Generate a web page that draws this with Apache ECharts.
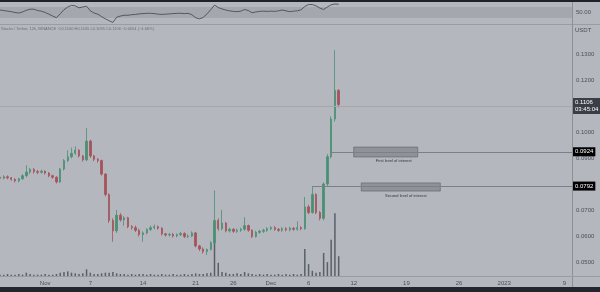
<!DOCTYPE html>
<html><head><meta charset="utf-8">
<script src="https://cdn.jsdelivr.net/npm/echarts@6/dist/echarts.min.js"></script>
<style>html,body{margin:0;padding:0;background:#b4b7be;}#c{width:600px;height:292px;}</style>
</head><body><div id="c"></div>
<script>
// 12h candles: [open, close, low, high]
const candles = [
 [0.0826,0.0822,0.0815,0.0832],[0.0822,0.0828,0.0818,0.0834],[0.0828,0.0824,0.0818,0.0833],[0.0824,0.0818,0.0812,0.0827],
 [0.0818,0.0812,0.0806,0.0822],[0.0812,0.0820,0.0806,0.0824],[0.0820,0.0832,0.0816,0.0838],[0.0832,0.0846,0.0826,0.0872],
 [0.0846,0.0856,0.0838,0.0862],[0.0856,0.0848,0.0840,0.0862],[0.0848,0.0845,0.0838,0.0854],[0.0845,0.0849,0.0840,0.0855],
 [0.0849,0.0842,0.0836,0.0853],[0.0842,0.0832,0.0826,0.0846],[0.0832,0.0826,0.0820,0.0836],[0.0826,0.0808,0.0802,0.0830],
 [0.0808,0.0858,0.0804,0.0862],[0.0858,0.0890,0.0852,0.0896],[0.0890,0.0905,0.0884,0.0930],[0.0905,0.0918,0.0898,0.0940],
 [0.0918,0.0930,0.0912,0.0945],[0.0930,0.0908,0.0902,0.0934],[0.0908,0.0893,0.0886,0.0912],[0.0893,0.0965,0.0888,0.1015],
 [0.0965,0.0908,0.0900,0.0970],[0.0908,0.0895,0.0888,0.0912],[0.0895,0.0890,0.0882,0.0900],[0.0890,0.0838,0.0832,0.0894],
 [0.0838,0.0760,0.0752,0.0842],[0.0760,0.0660,0.0650,0.0764],[0.0660,0.0620,0.0578,0.0668],[0.0620,0.0680,0.0612,0.0700],
 [0.0680,0.0662,0.0655,0.0688],[0.0662,0.0670,0.0640,0.0676],[0.0670,0.0636,0.0630,0.0674],[0.0636,0.0632,0.0624,0.0642],
 [0.0632,0.0622,0.0615,0.0640],[0.0622,0.0606,0.0598,0.0628],[0.0606,0.0612,0.0578,0.0618],[0.0612,0.0625,0.0606,0.0630],
 [0.0625,0.0632,0.0620,0.0640],[0.0632,0.0636,0.0626,0.0644],[0.0636,0.0630,0.0624,0.0640],[0.0630,0.0608,0.0602,0.0634],
 [0.0608,0.0604,0.0598,0.0612],[0.0604,0.0606,0.0598,0.0612],[0.0606,0.0600,0.0594,0.0612],[0.0600,0.0605,0.0595,0.0610],
 [0.0605,0.0610,0.0600,0.0615],[0.0610,0.0598,0.0592,0.0614],[0.0598,0.0600,0.0592,0.0606],[0.0600,0.0612,0.0596,0.0618],
 [0.0612,0.0562,0.0556,0.0616],[0.0562,0.0550,0.0542,0.0566],[0.0550,0.0540,0.0532,0.0556],[0.0540,0.0548,0.0527,0.0552],
 [0.0548,0.0574,0.0544,0.0580],[0.0574,0.0660,0.0570,0.0775],[0.0660,0.0628,0.0620,0.0668],[0.0628,0.0650,0.0622,0.0700],
 [0.0650,0.0620,0.0614,0.0654],[0.0620,0.0626,0.0614,0.0632],[0.0626,0.0618,0.0612,0.0630],[0.0618,0.0622,0.0612,0.0628],
 [0.0622,0.0626,0.0616,0.0632],[0.0626,0.0640,0.0620,0.0672],[0.0640,0.0622,0.0616,0.0644],[0.0622,0.0598,0.0592,0.0626],
 [0.0598,0.0614,0.0594,0.0620],[0.0614,0.0618,0.0608,0.0624],[0.0618,0.0622,0.0612,0.0628],[0.0622,0.0628,0.0616,0.0634],
 [0.0628,0.0632,0.0622,0.0638],[0.0632,0.0626,0.0620,0.0638],[0.0626,0.0622,0.0616,0.0630],[0.0622,0.0628,0.0616,0.0634],
 [0.0628,0.0624,0.0618,0.0634],[0.0624,0.0630,0.0618,0.0636],[0.0630,0.0626,0.0620,0.0634],[0.0626,0.0632,0.0620,0.0656],
 [0.0632,0.0628,0.0622,0.0638],[0.0628,0.0712,0.0624,0.0750],[0.0712,0.0690,0.0684,0.0720],[0.0690,0.0760,0.0686,0.0792],
 [0.0760,0.0690,0.0684,0.0764],[0.0690,0.0668,0.0660,0.0696],[0.0668,0.0800,0.0660,0.0806],[0.0800,0.0905,0.0792,0.0915],
 [0.0905,0.1050,0.0898,0.1060],[0.1050,0.1160,0.1040,0.1315],[0.1160,0.1106,0.1095,0.1165]
];
const volumes = [
 2,2,3,2,2,3,2,5,3,2,2,2,3,2,2,3,5,6,7,5,4,3,4,10,5,3,3,4,5,5,
 6,4,3,3,2,3,2,3,3,2,3,2,2,3,2,2,3,2,2,3,2,3,4,3,3,4,5,55,20,6,
 5,3,3,4,3,6,4,3,2,3,2,3,2,2,3,2,3,2,3,2,3,41,18,8,5,6,35,21,55,95,
 30
];
const rsiValues = [
 59,57,55,53,50,48,52,58,62,62,57,55,50,44,37,31,45,60,70,76,
 74,67,70,73,56,48,44,35,27,20,14,33,37,40,40,42,43,45,46,47,
 47,46,44,43,44,45,46,47,47,46,47,42,31,27,32,45,60,77,68,63,
 59,56,54,53,55,61,57,49,52,54,55,54,55,54,56,59,56,53,55,56,
 60,72,79,79,74,66,61,70,78,81,80
];
const priceTicks = [0.05,0.06,0.07,0.08,0.09,0.10,0.11,0.12,0.13];
const tickDates = ['2022-11-01 00:00','2022-11-07 00:00','2022-11-14 00:00','2022-11-21 00:00','2022-11-26 00:00','2022-12-01 00:00',
  '2022-12-06 00:00','2022-12-12 00:00','2022-12-19 00:00','2022-12-26 00:00','2023-01-01 00:00','2023-01-09 00:00'];
const tickLabels = ['Nov','7','14','21','26','Dec','6','12','19','26','2023','9'];
const lastPrice = 0.1106;
const lastTimer = '03:45:04';
const levelPrices = [0.0924, 0.0792];
const levelStarts = ['2022-12-09 00:00','2022-12-06 12:00'];
const zoneNames = ['First level of interest','Second level of interest'];
const zoneStarts = ['2022-12-12 00:00','2022-12-13 00:00'];
const zoneEnds = ['2022-12-20 12:00','2022-12-23 12:00'];
const zoneTops = [0.0942, 0.0804];
const zoneBottoms = [0.0904, 0.0773];

const categories = [];
const t0 = Date.UTC(2022, 9, 26);
for (let i = 0; i < 153; i++) {
  categories.push(new Date(t0 + i * 12 * 3600e3).toISOString().slice(0, 16).replace('T', ' '));
}
const lastCat = categories[categories.length - 1];
const axisColor = '#4b4f58';

const chart = echarts.init(document.getElementById('c'), null, {renderer: 'canvas'});
chart.setOption({
  animation: false,
  backgroundColor: '#b4b7be',
  textStyle: {fontFamily: 'Liberation Sans'},
  grid: [
    {left: 0, right: 28, top: 1.5, height: 22},
    {left: 0, right: 28, top: 2, bottom: 4},
    {left: 0, right: 28, top: 210, bottom: 16}
  ],
  xAxis: [
    {type: 'category', gridIndex: 0, data: categories, boundaryGap: false, show: false},
    {type: 'category', gridIndex: 1, data: categories, boundaryGap: false, show: false},
    {type: 'category', gridIndex: 2, data: categories, boundaryGap: false,
      axisLine: {show: false}, axisTick: {show: false}, splitLine: {show: false},
      axisLabel: {interval: (i, v) => tickDates.includes(v), formatter: v => tickLabels[tickDates.indexOf(v)] || '',
        fontSize: 6, color: axisColor, margin: 4}}
  ],
  yAxis: [
    {type: 'value', gridIndex: 0, min: 10, max: 90, position: 'right', splitLine: {show: false},
      axisLine: {show: false}, axisTick: {show: false},
      axisLabel: {customValues: [50], formatter: v => v.toFixed(2), fontSize: 6, color: axisColor, margin: 4}},
    {type: 'value', gridIndex: 1, min: 0.04, max: 0.15, position: 'right', splitLine: {show: false},
      axisLine: {show: false}, axisTick: {show: false},
      axisLabel: {customValues: priceTicks, formatter: v => v.toFixed(4), fontSize: 6, color: axisColor, margin: 4}},
    {type: 'value', gridIndex: 2, min: 0, max: 100, show: false}
  ],
  series: [
    {type: 'bar', xAxisIndex: 2, yAxisIndex: 2, data: volumes, barWidth: 1.5,
      itemStyle: {color: '#5a5f68'}, silent: true},
    {type: 'line', xAxisIndex: 0, yAxisIndex: 0, data: rsiValues, symbol: 'none',
      lineStyle: {color: '#3f434b', width: 0.8}, silent: true,
      markArea: {silent: true, itemStyle: {color: '#a4a7ae'}, data: [[{yAxis: 30}, {yAxis: 70}]]}},
    {type: 'candlestick', xAxisIndex: 1, yAxisIndex: 1, data: candles, barMaxWidth: 2,
      itemStyle: {color: '#4a8f73', color0: '#a4535b', borderColor: '#4a8f73', borderColor0: '#a4535b', borderWidth: 0.8},
      markLine: {silent: true, symbol: ['none', 'none'],
        label: {position: 'end', distance: 1, fontSize: 6, color: '#fff', backgroundColor: '#000', padding: [1.5, 2]},
        data: [
          {yAxis: lastPrice, lineStyle: {color: '#a3a6ad', width: 1, type: 'solid'},
            label: {formatter: lastPrice.toFixed(4) + '\n' + lastTimer, backgroundColor: '#3b3e46', lineHeight: 7, padding: [1, 2, 1, 2]}},
          ...levelPrices.map((p, k) => [
            {coord: [levelStarts[k], p], lineStyle: {color: '#7c7f87', width: 1, type: 'solid'},
              label: {formatter: p.toFixed(4)}},
            {coord: [lastCat, p]}
          ])
        ]},
      markArea: {silent: true,
        itemStyle: {color: '#8f9299', borderColor: '#6c6f77', borderWidth: 0.8},
        label: {show: true, position: 'bottom', distance: 2, fontSize: 4, color: '#34373e'},
        data: zoneNames.map((n, k) => [
          {name: n, coord: [zoneStarts[k], zoneTops[k]], label: {offset: [k === 0 ? 8 : 5, 0]}},
          {coord: [zoneEnds[k], zoneBottoms[k]]}
        ])}
    }
  ],
  graphic: [
    {type: 'rect', shape: {x: 0, y: 0, width: 600, height: 2}, style: {fill: '#1f222a'}, z: 100, silent: true},
    {type: 'rect', shape: {x: 0, y: 287, width: 600, height: 5}, style: {fill: '#23262e'}, z: 100, silent: true},
    {type: 'line', shape: {x1: 0, y1: 24.5, x2: 600, y2: 24.5}, style: {stroke: '#999ca3', lineWidth: 1}, z: 50, silent: true},
    {type: 'line', shape: {x1: 572.5, y1: 2, x2: 572.5, y2: 287}, style: {stroke: '#8c8f96', lineWidth: 1}, z: 50, silent: true},
    {type: 'line', shape: {x1: 0, y1: 276.5, x2: 600, y2: 276.5}, style: {stroke: '#999ca3', lineWidth: 1}, z: 50, silent: true},
    {type: 'text', x: 575, y: 27, style: {text: 'USDT', fontSize: 6, fill: axisColor, fontFamily: 'Liberation Sans'}, z: 50},
    {type: 'text', x: 1, y: 26.5, style: {text: 'Stacks / Tether, 12h, BINANCE  O0.1160 H0.1165 L0.1095 C0.1106 −0.0054 (−4.66%)', fontSize: 4, fill: '#6b6f77', fontFamily: 'Liberation Sans'}, z: 50}
  ]
});
</script></body></html>
